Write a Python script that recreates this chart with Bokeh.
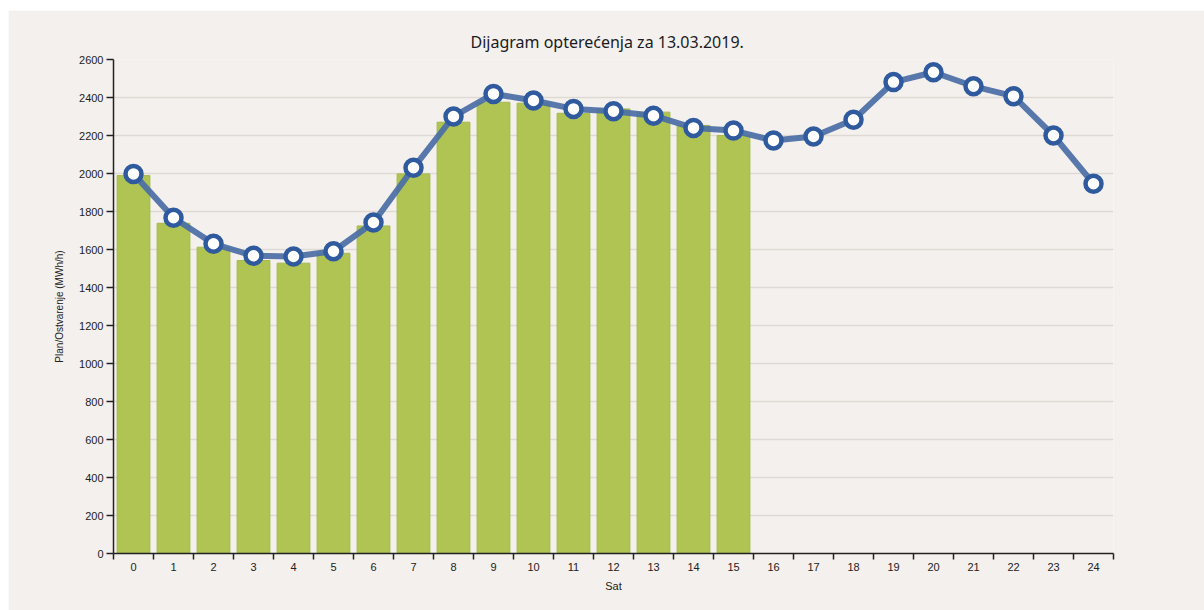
from bokeh.plotting import figure
from bokeh.models import FixedTicker, Range1d, Spacer
from bokeh.layouts import column, row
from bokeh.embed import file_html
from bokeh.resources import INLINE

# ---- data ----
hours = list(range(25))
hour_labels = [str(h) for h in hours]
actual_hours = list(range(16))
actual = [1989, 1738, 1612, 1542, 1528, 1580, 1724, 1998, 2270, 2375,
          2370, 2317, 2340, 2323, 2253, 2200]
plan = [1998, 1767, 1630, 1567, 1563, 1591, 1742, 2030, 2300, 2419,
        2384, 2340, 2328, 2304, 2240, 2226, 2174, 2195, 2283, 2481,
        2533, 2459, 2407, 2200, 1946]
y_ticks = list(range(0, 2601, 200))

title_text = "Dijagram opterećenja za 13.03.2019."
x_label = "Sat"
y_label = "Plan/Ostvarenje (MWh/h)"

BG = "#f4f0ed"
BAR = "#b0c454"
LINE = "#4a6ea6"
RING = "#2f5a9e"

p = figure(width=1196, height=600, output_backend="svg", toolbar_location=None,
           x_range=Range1d(-0.5, 24.5), y_range=Range1d(0, 2600),
           min_border_left=105, min_border_right=91, min_border_top=49,
           min_border_bottom=57, title=title_text)

p.background_fill_color = BG
p.border_fill_color = BG
p.outline_line_color = None

p.title.align = "left"
p.title.offset = 357
p.title.text_font = "Noto Sans"
p.title.text_font_size = "16px"
p.title.text_font_style = "normal"
p.title.text_color = "#1b1b25"
p.title.standoff = 14

p.vbar(x=actual_hours, top=actual, width=0.82, fill_color=BAR,
       line_color="#a5b94c", line_width=1)
p.line(hours, plan, line_color=LINE, line_width=6, line_alpha=0.92)
p.scatter(hours, plan, size=16, fill_color="#ffffff", line_color=RING,
          line_width=4.5)

# x axis: labels at centers, ticks at band boundaries
p.xaxis.ticker = FixedTicker(ticks=hours, minor_ticks=[h - 0.5 for h in hours] + [24.5])
p.xaxis.major_label_overrides = {h: s for h, s in zip(hours, hour_labels)}
p.xaxis.major_tick_line_alpha = 0
p.xaxis.major_tick_out = 6
p.xaxis.major_tick_in = 0
p.xaxis.minor_tick_out = 6
p.xaxis.minor_tick_in = 0
p.xaxis.minor_tick_line_color = "#222222"
p.xaxis.minor_tick_line_width = 1.5
p.xaxis.major_label_standoff = 3
p.xaxis.axis_label = x_label
p.xaxis.axis_label_standoff = 6

p.yaxis.ticker = FixedTicker(ticks=y_ticks, minor_ticks=[])
p.yaxis.major_tick_out = 7
p.yaxis.major_tick_in = 0
p.yaxis.major_label_standoff = 3
p.yaxis.axis_label = y_label
p.yaxis.axis_label_standoff = 11

for ax in (p.xaxis, p.yaxis):
    ax.axis_line_color = "#222222"
    ax.axis_line_width = 1.5
    ax.major_tick_line_color = "#222222"
    ax.major_tick_line_width = 1.5
    ax.major_label_text_font = "Liberation Sans"
    ax.major_label_text_font_size = "11px"
    ax.major_label_text_color = "#222222"
    ax.axis_label_text_font = "Liberation Sans"
    ax.axis_label_text_font_style = "normal"
    ax.axis_label_text_color = "#222222"

p.xaxis.axis_label_text_font_size = "11px"
p.yaxis.axis_label_text_font_size = "10px"

p.xgrid.grid_line_color = None
p.ygrid.ticker = FixedTicker(ticks=y_ticks[1:])
p.ygrid.grid_line_color = "#dfd9d6"
p.ygrid.grid_line_width = 1.5

page = column(Spacer(height=10), row(Spacer(width=8), p))

open("out.html", "w").write(file_html(page, INLINE))
